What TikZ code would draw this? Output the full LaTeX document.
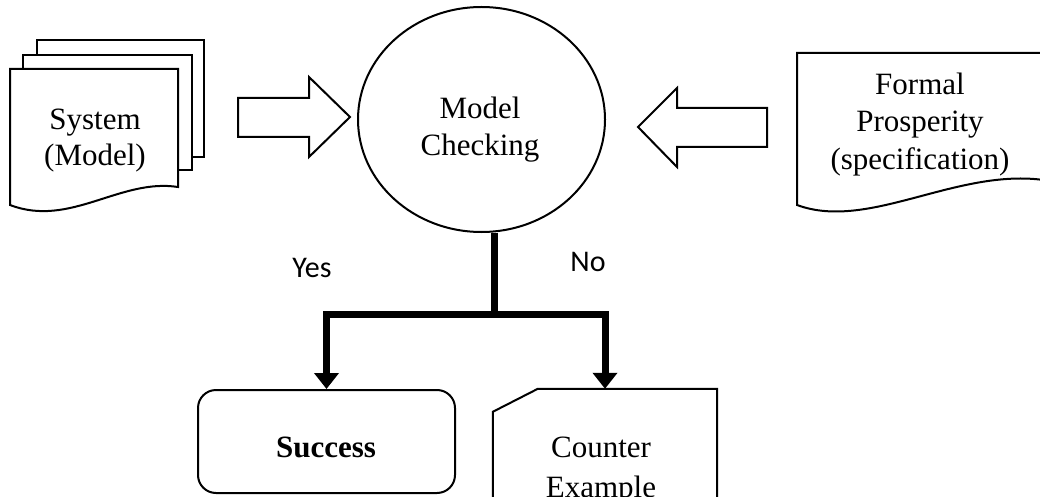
\documentclass[tikz,border=0pt]{standalone}
\usepackage{fontspec}
\setmainfont{Liberation Serif}
\newfontfamily\labelsans{Carlito}
\usetikzlibrary{arrows.meta,calc,shapes.geometric}
\begin{document}
\begin{tikzpicture}[x=1pt,y=-1pt,
  outline/.style={draw=black, line width=2pt, fill=white},
  serif/.style={font=\fontsize{31}{36}\selectfont, inner sep=0pt, anchor=base},
  answer/.style={font=\labelsans\fontsize{30}{36}\selectfont, inner sep=0pt, anchor=base},
  stem/.style={line width=7pt},
  branch/.style={line width=7pt, line join=miter, -{Triangle[width=24pt,length=16pt]}}]
\useasboundingbox (0,0) rectangle (1040,497);
\clip (0,0) rectangle (1040,497);

% stacked documents: system model
\draw[outline] (37,40) rectangle (204,157);
\draw[outline] (23,55) rectangle (192,170);
\draw[outline] (10,69) -- (178,69) -- (178,187)
  .. controls (120,178) and (70,228) .. (10,205) -- cycle;
\node[serif] (sys1) at (95,130) {System};
\node[serif] (sys2) at (95,165) {(Model)};

% specification document
\draw[outline] (797,53) -- (1050,53) -- (1050,181)
  .. controls (960,165) and (870,232) .. (797,205) -- cycle;
\node[serif] (fp1) at (920,95) {Formal};
\node[serif] (fp2) at (920,132) {Prosperity};
\node[serif] (fp3) at (920,169) {(specification)};

% block arrows into the checker
\draw[outline, line join=miter] (238,98) -- (309,98) -- (309,77) -- (350,117)
  -- (309,157) -- (309,137) -- (238,137) -- cycle;
\draw[outline, line join=miter] (767,108) -- (677,108) -- (677,88) -- (638,127)
  -- (677,167) -- (677,147) -- (767,147) -- cycle;

% model checker
\node[outline, ellipse, minimum width=247pt, minimum height=225pt, inner sep=0pt]
  (mc) at (481.5,119.5) {};
\node[serif] (mc1) at (480,119) {Model};
\node[serif] (mc2) at (480,156) {Checking};

% outcomes
\node[outline, rounded corners=18pt, minimum width=257pt, minimum height=103pt,
  inner sep=0pt] (succ) at (326.5,441.5) {};
\node[serif] (succtext) at (326,457) {\bfseries Success};

\node[minimum width=224pt, minimum height=140pt, inner sep=0pt] (cex) at (605,459) {};
\draw[outline, line join=miter] ($(cex.north west)+(0,23)$) -- ($(cex.north west)+(45,0)$)
  -- (cex.north east) -- (cex.south east) -- (cex.south west) -- cycle;
\node[serif] (ce1) at (601,457) {Counter};
\node[serif] (ce2) at (601,497) {Example};

% yes / no branching
\coordinate (split) at (494,314);
\draw[stem] (mc.south -| split) -- (split);
\draw[branch] (split) -| (succ.north);
\draw[branch] (split) -| (cex.north);
\node[answer] (yes) at (312,277) {Yes};
\node[answer] (no) at (588,271) {No};
\end{tikzpicture}
\end{document}
